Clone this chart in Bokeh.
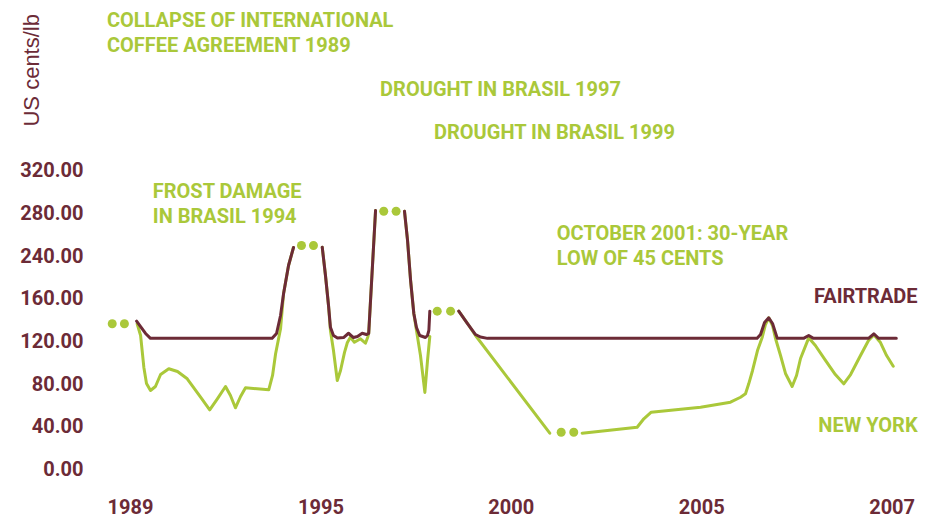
import math
from bokeh.plotting import figure
from bokeh.models import Range1d, FixedTicker, Label
from bokeh.embed import file_html
from bokeh.resources import INLINE

# ---------------- data ----------------
# x: position along the time axis, in tick units (0 = 1989, 1 = 1995, 2 = 2000, 3 = 2005, 4 = 2007)
# y: price in US cents/lb (plotted scale)
tick_pos = [0, 1, 2, 3, 4]
tick_labels = ["1989", "1995", "2000", "2005", "2007"]
ytick_pos = [0, 40, 80, 120, 160, 200, 240, 280]
ytick_labels = ["0.00", "40.00", "80.00", "120.00", "160.00", "240.00", "280.00", "320.00"]

# Fairtrade price, drawn as separate segments (gaps at event markers)
ft1_x = [0.032, 0.053, 0.079, 0.105, 0.744, 0.767, 0.788, 0.804, 0.830, 0.856]
ft1_y = [138.1, 133.1, 126.6, 122.0, 122.0, 126.6, 143.4, 164.1, 190.3, 207.2]
ft2_x = [1.007, 1.024, 1.040, 1.050, 1.066, 1.087, 1.119, 1.145, 1.171, 1.192, 1.217, 1.239, 1.251, 1.287]
ft2_y = [207.5, 180.9, 152.8, 132.5, 124.7, 122.3, 122.8, 126.8, 122.8, 123.8, 126.8, 125.6, 126.6, 241.9]
ft3_x = [1.439, 1.455, 1.471, 1.488, 1.502, 1.519, 1.549, 1.560, 1.567, 1.572]
ft3_y = [241.2, 213.8, 176.3, 145.3, 132.2, 124.7, 122.8, 124.7, 129.4, 147.5]
ft4_x = [1.724, 1.770, 1.812, 1.838, 1.875, 3.291, 3.309, 3.330, 3.352, 3.372, 3.397,
         3.535, 3.562, 3.587, 3.876, 3.904, 3.929, 4.022]
ft4_y = [147.5, 135.9, 125.6, 123.3, 122.0, 122.0, 125.6, 136.9, 141.3, 135.9, 122.0,
         122.0, 124.7, 122.0, 122.0, 126.3, 122.0, 122.0]

# New York price, segments
ny1_x = [0.035, 0.053, 0.070, 0.084, 0.105, 0.131, 0.158, 0.201, 0.247, 0.298, 0.368, 0.416,
         0.457, 0.499, 0.525, 0.551, 0.578, 0.604, 0.665, 0.726, 0.746, 0.762, 0.788, 0.804, 0.830, 0.856]
ny1_y = [135.7, 124.7, 95.0, 79.7, 73.1, 76.9, 88.1, 93.5, 90.9, 84.1, 66.8, 55.0,
         65.6, 76.9, 68.4, 56.9, 67.5, 75.7, 74.7, 73.8, 87.2, 107.5, 131.0, 164.1, 190.3, 207.2]
ny2_x = [1.007, 1.024, 1.040, 1.050, 1.066, 1.086, 1.103, 1.124, 1.139, 1.155, 1.176, 1.208,
         1.234, 1.246, 1.251, 1.287]
ny2_y = [207.5, 180.9, 152.8, 129.4, 110.6, 82.5, 91.9, 108.8, 118.1, 123.1, 118.4, 121.6,
         117.5, 123.1, 126.6, 241.9]
ny3_x = [1.439, 1.455, 1.471, 1.488, 1.502, 1.523, 1.546, 1.560, 1.572]
ny3_y = [241.2, 213.8, 176.3, 145.3, 129.4, 105.9, 71.3, 101.3, 123.8]
ny4_x = [1.724, 1.770, 1.812, 2.202]
ny4_y = [147.5, 135.9, 124.7, 33.1]
ny5_x = [2.372, 2.661, 2.696, 2.735, 2.994, 3.151, 3.204, 3.230, 3.247, 3.267, 3.293, 3.318,
         3.335, 3.352, 3.372, 3.388, 3.414, 3.440, 3.475, 3.498, 3.519, 3.562, 3.597, 3.650,
         3.702, 3.746, 3.782, 3.834, 3.876, 3.904, 3.939, 3.971, 4.006]
ny5_y = [33.1, 38.7, 46.6, 52.8, 57.5, 62.2, 66.8, 70.0, 79.4, 91.9, 110.6, 123.1,
         135.0, 141.3, 134.1, 121.6, 105.9, 89.1, 76.9, 87.2, 103.1, 122.5, 115.3, 101.3,
         88.1, 79.4, 88.1, 105.9, 120.0, 125.3, 118.1, 105.9, 95.9]

# event markers (pairs of dots)
dot_x = [-0.096, -0.032, 0.898, 0.961, 1.330, 1.395, 1.611, 1.681, 2.262, 2.328]
dot_y = [135.7, 135.7, 209.1, 209.1, 241.2, 241.2, 147.5, 147.5, 34.0, 34.0]

# annotation texts
ann_texts = ["COLLAPSE OF INTERNATIONAL", "COFFEE AGREEMENT 1989",
             "DROUGHT IN BRASIL 1997", "DROUGHT IN BRASIL 1999",
             "FROST DAMAGE", "IN BRASIL 1994",
             "OCTOBER 2001: 30-YEAR", "LOW OF 45 CENTS"]
ann_x = [-0.124, -0.124, 1.311, 1.594, 0.117, 0.117, 2.239, 2.239]
ann_y = [420.4, 397.5, 355.8, 315.2, 260.4, 237.0, 220.8, 197.3]

MAROON = "#6c2b37"
GREEN = "#aac83a"
FONT = "Roboto"

p = figure(width=935, height=520, output_backend="svg", toolbar_location=None,
           x_range=Range1d(-0.6828, 4.2279), y_range=Range1d(-48.75, 438.75),
           min_border=0)
p.outline_line_color = None
p.grid.visible = False
p.background_fill_color = "white"
p.border_fill_color = "white"

for ax in (p.xaxis[0], p.yaxis[0]):
    ax.axis_line_color = None
    ax.major_tick_line_color = None
    ax.minor_tick_line_color = None
    ax.major_tick_out = 0
    ax.major_tick_in = 0
    ax.minor_tick_out = 0
    ax.major_label_text_font = FONT
    ax.major_label_text_font_style = "bold"
    ax.major_label_text_font_size = "20px"
    ax.major_label_text_color = MAROON

p.xaxis.ticker = FixedTicker(ticks=tick_pos)
p.xaxis.major_label_overrides = {t: l for t, l in zip(tick_pos, tick_labels)}
p.xaxis.major_label_standoff = 4
p.xaxis.fixed_location = -24.4
p.yaxis.ticker = FixedTicker(ticks=ytick_pos)
p.yaxis.major_label_overrides = {t: l for t, l in zip(ytick_pos, ytick_labels)}
p.yaxis.major_label_standoff = 15
p.yaxis.fixed_location = -0.168

for xs, ys in [(ny1_x, ny1_y), (ny2_x, ny2_y), (ny3_x, ny3_y), (ny4_x, ny4_y), (ny5_x, ny5_y)]:
    p.line(xs, ys, line_color=GREEN, line_width=3, line_join="round", line_cap="round")
for xs, ys in [(ft1_x, ft1_y), (ft2_x, ft2_y), (ft3_x, ft3_y), (ft4_x, ft4_y)]:
    p.line(xs, ys, line_color=MAROON, line_width=3, line_join="round", line_cap="round")

p.scatter(dot_x, dot_y, size=9, fill_color=GREEN, line_color=None)

for t, x, y in zip(ann_texts, ann_x, ann_y):
    p.add_layout(Label(x=x, y=y, text=t, text_font=FONT, text_font_style="bold",
                       text_font_size="20px", text_color=GREEN,
                       text_align="left", text_baseline="alphabetic"))

p.add_layout(Label(x=4.134, y=161.4, text="FAIRTRADE", text_font=FONT, text_font_style="bold",
                   text_font_size="20px", text_color=MAROON,
                   text_align="right", text_baseline="alphabetic"))
p.add_layout(Label(x=4.134, y=41.0, text="NEW YORK", text_font=FONT, text_font_style="bold",
                   text_font_size="20px", text_color=GREEN,
                   text_align="right", text_baseline="alphabetic"))
p.add_layout(Label(x=-0.520, y=320.6, text="US cents/lb", text_font="Liberation Sans",
                   text_font_size="22px", text_color=MAROON, angle=math.pi / 2,
                   text_align="left", text_baseline="alphabetic"))

open("out.html", "w").write(file_html(p, INLINE))
